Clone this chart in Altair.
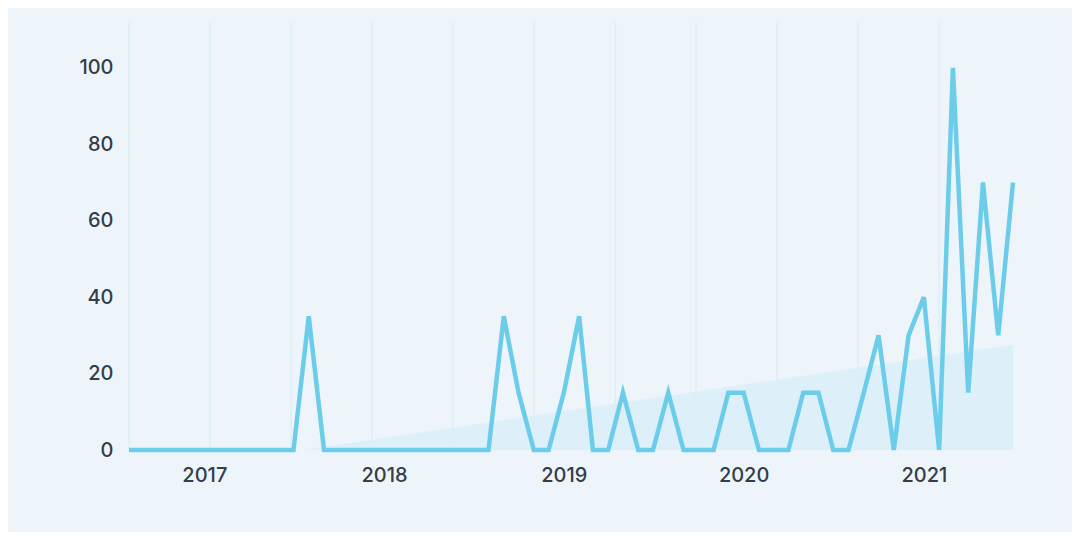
import altair as alt
import pandas as pd

# Monthly values, Aug 2016 .. Jul 2021
months = pd.date_range("2016-08-01", periods=60, freq="MS")
values = [0, 0, 0, 0, 0, 0, 0, 0, 0, 0, 0, 0,
          35, 0, 0, 0, 0, 0, 0, 0, 0, 0, 0, 0, 0,
          35, 15, 0, 0, 15, 35, 0, 0, 15, 0, 0, 15, 0, 0, 0,
          15, 15, 0, 0, 0, 15, 15, 0, 0, 15, 30, 0, 30, 40, 0,
          100, 15, 70, 30, 70]
year_ticks = ["2017-01-01", "2018-01-01", "2019-01-01", "2020-01-01", "2021-01-01"]
y_ticks = [0, 20, 40, 60, 80, 100]
grid_step_days = 164.5
grid_count = 11

def to_ms(ts):
    return int(pd.Timestamp(ts).value // 10**6)

df = pd.DataFrame({"ms": [to_ms(m) for m in months], "value": values})
grid_df = pd.DataFrame({"ms": [to_ms(months[0] + pd.Timedelta(days=grid_step_days * k))
                               for k in range(grid_count)]})

W, H = 884, 428
FONT = "Inter"
LABEL_COLOR = "#343d49"
LINE_COLOR = "#6ccdea"

x_scale = alt.Scale(domain=[df["ms"].min(), df["ms"].max()], nice=False, padding=0)
y_scale = alt.Scale(domain=[0, 112], nice=False, zero=True)

x_axis = alt.Axis(values=[to_ms(t) for t in year_ticks], format="%Y", title=None,
                  grid=False, domain=False, ticks=False, labelPadding=15,
                  labelFontSize=20, labelFont=FONT, labelFontWeight=500,
                  labelColor=LABEL_COLOR)
y_axis = alt.Axis(values=y_ticks, title=None, grid=False, domain=False, ticks=False,
                  labelPadding=16, labelFontSize=20, labelFont=FONT,
                  labelFontWeight=500, labelColor=LABEL_COLOR)

grid = alt.Chart(grid_df).mark_rule(color="#dff0f8", strokeWidth=2).encode(
    x=alt.X("ms:T", scale=x_scale, axis=x_axis)
)

trend = alt.Chart(df).transform_regression("ms", "value").mark_area(
    color="#d9eff8", opacity=0.85, clip=True
).encode(
    x=alt.X("ms:T", scale=x_scale, axis=x_axis),
    y=alt.Y("value:Q", scale=y_scale, axis=y_axis),
)

line = alt.Chart(df).mark_line(color=LINE_COLOR, strokeWidth=4.5).encode(
    x=alt.X("ms:T", scale=x_scale, axis=x_axis),
    y=alt.Y("value:Q", scale=y_scale, axis=y_axis),
)

chart = alt.layer(grid, trend, line).properties(
    width=W, height=H,
    autosize=alt.AutoSizeParams(type="none"),
    padding={"left": 121, "top": 14, "right": 59, "bottom": 82},
    background="#edf5fa",
).configure_view(stroke=None)

chart.save("out.html", embed_options={"renderer": "svg", "actions": False})
